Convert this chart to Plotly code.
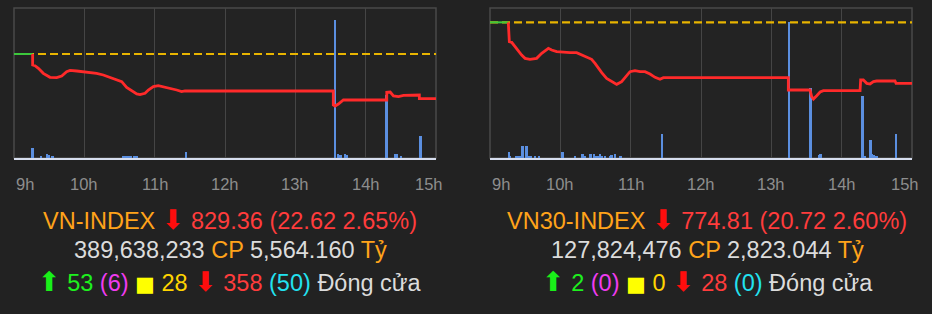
import plotly.graph_objects as go

# ---------------- data ----------------
tick_minutes = [0, 60, 120, 180, 240, 300, 360]
tick_labels = ["9h", "10h", "11h", "12h", "13h", "14h", "15h"]

# VN-INDEX
vn_ref = 851.98
vn_open_t = [0, 15.9]
vn_t = [15.9, 15.9, 17.9, 20.8, 25.0, 30.7, 36.4, 40.7, 44.9, 47.8, 53.5, 59.2, 64.8, 70.5,
        76.2, 81.9, 87.6, 91.9, 96.1, 100.4, 104.7, 107.5, 111.8, 114.6, 118.9, 123.1, 127.4,
        133.1, 138.8, 143.0, 145.9, 272.4, 272.4, 273.9, 276.7, 281.0, 318.0, 318.0, 320.9,
        323.7, 328.0, 332.3, 343.6, 345.8, 345.8, 360]
vn_p = [851.98, 846.41, 846.07, 844.72, 842.19, 840.17, 839.99, 840.84, 843.03, 843.71, 843.37,
        843.03, 842.87, 842.19, 841.35, 840.17, 839.15, 837.97, 835.10, 833.40, 831.73, 831.39,
        832.06, 833.75, 835.44, 835.95, 835.44, 834.77, 833.75, 832.91, 833.25, 833.25, 826.16,
        825.65, 826.66, 828.69, 828.69, 832.57, 832.74, 830.71, 830.38, 831.05, 831.22, 831.22,
        829.36, 829.36]
vn_vol_t = [16, 23, 28, 30, 33, 93, 94, 95.5, 97, 98.4, 99.8, 103, 104.7, 147, 274, 276.7,
            278.7, 282.4, 283.8, 318, 325, 326.5, 330, 347]
vn_vol = [6.7, 1.3, 2.7, 1.8, 1.3, 1.3, 1.3, 1.3, 1.3, 1.3, 1.3, 1.3, 1.3, 4.0, 92.0, 2.7,
          1.8, 2.7, 1.8, 42.0, 2.7, 2.7, 1.3, 14.7]
vn_range = [799.32, 875.27]

# VN30-INDEX
v30_ref = 795.53
v30_open_t = [0, 15.6]
v30_t = [15.6, 16.5, 18.5, 21.3, 24.2, 27.0, 29.9, 34.1, 39.8, 44.1, 49.8, 52.6, 56.9, 62.6,
         68.3, 73.9, 78.2, 82.5, 86.7, 89.6, 92.4, 95.3, 99.5, 103.8, 108.1, 112.3, 115.2,
         119.4, 123.7, 128.0, 132.2, 136.5, 140.8, 145.0, 147.9, 254.5, 254.5, 273.0, 274.4,
         275.9, 278.7, 281.6, 284.4, 315.7, 316.2, 318.5, 321.4, 324.2, 327.1, 329.9, 345.5,
         346.4, 360]
v30_p = [795.53, 788.96, 788.74, 787.27, 786.13, 784.43, 783.30, 782.96, 783.30, 785.00, 786.70,
         786.13, 785.56, 785.34, 785.23, 785.23, 784.43, 783.87, 782.96, 781.60, 779.91, 778.43,
         776.51, 775.38, 774.47, 775.38, 776.85, 778.77, 779.11, 778.77, 778.77, 777.98, 776.85,
         776.17, 776.73, 776.73, 772.55, 772.55, 770.28, 769.49, 770.62, 771.87, 772.32, 772.32,
         775.94, 775.94, 774.81, 774.58, 775.38, 775.60, 775.60, 774.81, 774.81]
v30_vol_t = [16.2, 17.6, 22.8, 24.2, 25.6, 27.9, 31.3, 32.7, 34.7, 38.4, 41.8, 62.0, 72.5, 79.1,
             81.1, 85.9, 88.7, 90.4, 92.4, 94.4, 96.1, 98.1, 102.4, 103.8, 106.7, 111.5, 147.3,
             255.1, 273.6, 281.0, 282.1, 318.0, 320.0, 324.8, 326.2, 327.6, 329.9, 346.9]
v30_vol = [4.0, 1.3, 1.3, 1.3, 1.3, 8.0, 8.0, 1.3, 1.3, 1.3, 1.3, 4.0, 1.3, 2.7, 1.3, 2.7, 2.7,
           1.3, 1.3, 2.7, 1.3, 1.3, 1.3, 1.8, 2.7, 1.3, 16.0, 90.7, 46.4, 1.8, 2.7, 41.3, 1.3,
           12.0, 2.7, 1.8, 1.3, 16.0]
v30_range = [749.45, 800.40]

# summary texts
names = ["VN-INDEX", "VN30-INDEX"]
closes = ["829.36", "774.81"]
changes = ["22.62", "20.72"]
pcts = ["2.65%", "2.60%"]
shares = ["389,638,233", "127,824,476"]
values = ["5,564.160", "2,823.044"]
ups = ["53", "2"]
ceils = ["6", "0"]
flats = ["28", "0"]
downs = ["358", "28"]
floors = ["50", "0"]
status = "Đóng cửa"

# ---------------- style ----------------
BG = "#222222"
ORANGE = "#ffa31a"
RED = "#ff3c3c"
ARROW_RED = "#ff0d0d"
GRAY = "#dcdcdc"
FONT = "Liberation Sans, Arial, sans-serif"

W, H = 932, 314
doms_x = [[14 / W, 436 / W], [490 / W, 912 / W]]
dom_y = [1 - 158 / H, 1 - 8 / H]
text_cx = [230 / W, 707 / W]

fig = go.Figure()

panels = [
    (vn_t, vn_p, vn_open_t, vn_ref, vn_vol_t, vn_vol, vn_range),
    (v30_t, v30_p, v30_open_t, v30_ref, v30_vol_t, v30_vol, v30_range),
]

for i, (t, p, ot, ref, vt, vv, rng) in enumerate(panels):
    xa = "x" if i == 0 else "x2"
    yv = "y" if i == 0 else "y3"
    yp = "y2" if i == 0 else "y4"
    fig.add_trace(go.Bar(x=vt, y=vv, width=1.4, marker=dict(color="#5b8fe0", line=dict(width=0)),
                         xaxis=xa, yaxis=yv, showlegend=False, hoverinfo="skip"))
    fig.add_trace(go.Scatter(x=[tick_minutes[0], tick_minutes[-1]], y=[ref, ref], mode="lines",
                             line=dict(color="#e8b400", width=2.2, dash="8px,4px"),
                             xaxis=xa, yaxis=yp, showlegend=False, hoverinfo="skip"))
    fig.add_trace(go.Scatter(x=ot, y=[ref, ref], mode="lines",
                             line=dict(color="#3cc83c", width=2),
                             xaxis=xa, yaxis=yp, showlegend=False, hoverinfo="skip"))
    fig.add_trace(go.Scatter(x=t, y=p, mode="lines",
                             line=dict(color="#ff2a2a", width=2.8),
                             xaxis=xa, yaxis=yp, showlegend=False, hoverinfo="skip"))

axis_common = dict(range=[tick_minutes[0], tick_minutes[-1]], tickvals=tick_minutes,
                   showticklabels=False, showgrid=True, gridcolor="#454545", gridwidth=1,
                   zeroline=False, showline=True, linecolor="#d6ddee", linewidth=2, ticks="",
                   fixedrange=True)
hidden = dict(showgrid=False, showticklabels=False, zeroline=False, showline=False, ticks="",
              fixedrange=True)

fig.update_layout(
    width=W, height=H, margin=dict(l=0, r=0, t=0, b=0),
    paper_bgcolor=BG, plot_bgcolor="#232323", bargap=0, barmode="overlay",
    font=dict(family=FONT),
    xaxis=dict(domain=doms_x[0], anchor="y", **axis_common),
    xaxis2=dict(domain=doms_x[1], anchor="y3", **axis_common),
    yaxis=dict(domain=dom_y, anchor="x", range=[0, 100], **hidden),
    yaxis2=dict(domain=dom_y, anchor="x", overlaying="y", range=vn_range, **hidden),
    yaxis3=dict(domain=dom_y, anchor="x2", range=[0, 100], **hidden),
    yaxis4=dict(domain=dom_y, anchor="x2", overlaying="y3", range=v30_range, **hidden),
)

# plot borders (paper coords from the axis domains)
for dx in doms_x:
    fig.add_shape(type="rect", xref="paper", yref="paper", x0=dx[0], x1=dx[1],
                  y0=dom_y[0], y1=dom_y[1],
                  line=dict(color="#4a4a4a", width=1.5), layer="below")

# tick labels
for xa in ["x", "x2"]:
    for k, (tv, tl) in enumerate(zip(tick_minutes, tick_labels)):
        if k == 0:
            anchor, shift = "left", 0
        elif k == len(tick_minutes) - 1:
            anchor, shift = "right", 9
        else:
            anchor, shift = "center", 0
        fig.add_annotation(x=tv, xref=xa, y=1 - 184 / H, yref="paper", text=tl,
                           xanchor=anchor, xshift=shift, yanchor="middle", showarrow=False,
                           font=dict(size=16.5, color="#8e8e8e", family=FONT))


def sp(txt, color, extra=""):
    return f'<span style="color:{color};{extra}">{txt}</span>'


ARROW_FONT = "font-family:DejaVu Sans;font-size:27px"
for i in range(2):
    l1 = " ".join([sp(names[i], ORANGE), sp("⬇", ARROW_RED, ARROW_FONT),
                   sp(f"{closes[i]} ({changes[i]} {pcts[i]})", RED)])
    l2 = " ".join([sp(shares[i], GRAY), sp("CP", ORANGE), sp(values[i], GRAY), sp("Tỷ", ORANGE)])
    l3 = " ".join([sp("⬆", "#19f019", ARROW_FONT), sp(ups[i], "#1ef01e"),
                   sp(f"({ceils[i]})", "#f03cf0"),
                   sp("■", "#ffff00", "font-family:DejaVu Sans;font-size:21px"),
                   sp(flats[i], "#ffd400"), sp("⬇", ARROW_RED, ARROW_FONT),
                   sp(downs[i], RED), sp(f"({floors[i]})", "#22e2f0"), sp(status, GRAY)])
    for txt, yc in [(l1, 219), (l2, 249.5), (l3, 281)]:
        fig.add_annotation(x=text_cx[i], xref="paper", y=1 - yc / H, yref="paper", text=txt,
                           xanchor="center", yanchor="middle", showarrow=False,
                           font=dict(size=23.5, color=GRAY, family=FONT))

fig.write_html("out.html")
